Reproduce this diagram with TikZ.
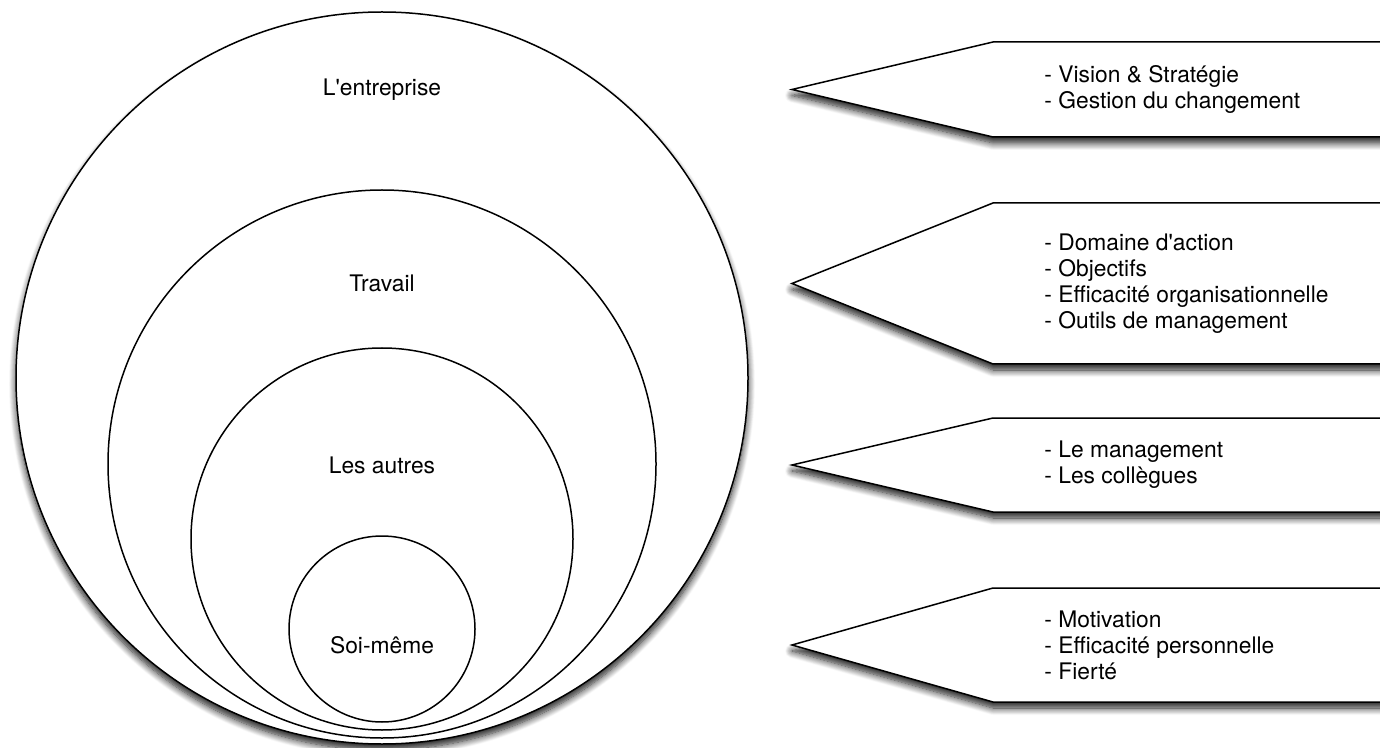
\documentclass[tikz,border=0pt]{standalone}
\usepackage{fontspec}
\setmainfont{TeX Gyre Heros}
\usetikzlibrary{positioning,shadows.blur}

\begin{document}
\begin{tikzpicture}[x=0.5pt, y=-0.5pt, every node/.style={font=\fontsize{11.4}{13}\selectfont}]
\tikzstyle{ring}=[circle, draw, line width=0.75pt, fill=white, inner sep=0pt]
\tikzstyle{dropshade}=[blur shadow={shadow xshift=0pt, shadow yshift=-3pt, shadow blur radius=3.5pt, shadow blur steps=10, shadow opacity=90}]
\tikzstyle{tag}=[draw, line width=0.75pt, fill=white, line join=miter, dropshade]
\tikzstyle{items}=[anchor=west, align=left, inner sep=0pt]

\useasboundingbox (0,0) rectangle (1380,748);

% Nested circles (outer one casts the shadow)
\node[ring, minimum size=366pt, dropshade] (entreprise) at (382,378) {};
\node[ring, minimum size=274pt] (travail) at (382,464) {};
\node[ring, minimum size=191pt] (autres) at (382,539) {};
\node[ring, minimum size=93pt] (soi) at (382,629) {};

% Circle labels
\node (entreprisetxt) at (382,90) {L\textquotesingle entreprise};
\node (travailtxt) at (382,283) {Travail};
\node (autrestxt) at (382,465) {Les autres};
\node (soitxt) at (382,645) {Soi-même};

% Pointers on the right, running past the page edge
\draw[tag] (1400,42) -- (993,42) -- (792,89.5) -- (993,137) -- (1400,137) -- cycle;
\draw[tag] (1400,203) -- (993,203) -- (792,283.5) -- (993,364) -- (1400,364) -- cycle;
\draw[tag] (1400,418) -- (993,418) -- (792,465) -- (993,512) -- (1400,512) -- cycle;
\draw[tag] (1400,588) -- (993,588) -- (792,645) -- (993,702) -- (1400,702) -- cycle;

% Lists inside the pointers
\node[items] (visionlist) at (1044,89.5) {- Vision \& Stratégie\\- Gestion du changement};
\node[items] (travaillist) at (1044,283.5) {- Domaine d\textquotesingle action\\- Objectifs\\- Efficacité organisationnelle\\- Outils de management};
\node[items] (autreslist) at (1044,465) {- Le management\\- Les collègues};
\node[items] (soilist) at (1044,645) {- Motivation\\- Efficacité personnelle\\- Fierté};
\end{tikzpicture}
\end{document}
